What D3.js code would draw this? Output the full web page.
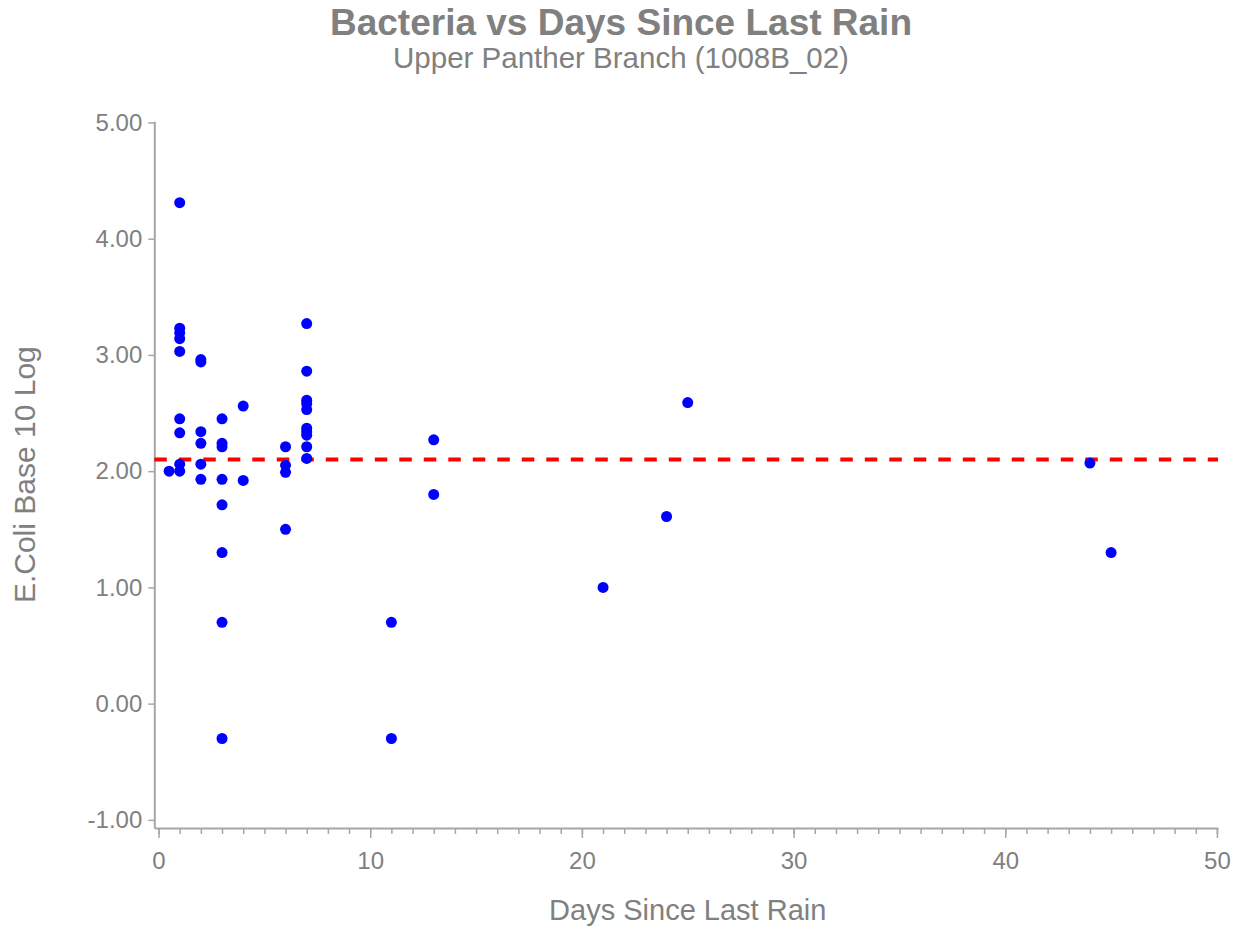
<!DOCTYPE html>
<html>
<head>
<meta charset="utf-8">
<script src="https://cdn.jsdelivr.net/npm/d3@7"></script>
<style>
  html, body { margin: 0; padding: 0; background: #fff; }
  svg { display: block; }
  text { font-family: "Liberation Sans", Arial, sans-serif; fill: #808080; }
</style>
</head>
<body>
<svg id="chart" width="1242" height="928"></svg>
<script>
// Days since last rain for each sample
const days = [
  0.5,
  1, 1, 1, 1, 1, 1, 1, 1, 1,
  2, 2, 2, 2, 2, 2,
  3, 3, 3, 3, 3, 3, 3, 3,
  4, 4,
  6, 6, 6, 6,
  7, 7, 7, 7, 7, 7, 7, 7, 7, 7,
  11, 11,
  13, 13,
  21, 24, 25, 44, 45
];
// log10 E. coli for each sample
const ecoliLog = [
  2.00,
  4.31, 3.23, 3.19, 3.14, 3.03, 2.45, 2.33, 2.06, 2.00,
  2.96, 2.94, 2.34, 2.24, 2.06, 1.93,
  2.45, 2.24, 2.21, 1.93, 1.71, 1.30, 0.70, -0.30,
  2.56, 1.92,
  2.21, 2.05, 1.99, 1.50,
  3.27, 2.86, 2.61, 2.58, 2.53, 2.37, 2.34, 2.31, 2.21, 2.11,
  0.70, -0.30,
  2.27, 1.80,
  1.00, 1.61, 2.59, 2.07, 1.30
];
const referenceLevel = 2.10;
const xTicks = [0, 10, 20, 30, 40, 50];
const xMinorTicks = d3.range(0, 51, 1);
const yTicks = [-1, 0, 1, 2, 3, 4, 5];

const titleText = "Bacteria vs Days Since Last Rain";
const subtitleText = "Upper Panther Branch (1008B_02)";
const xLabel = "Days Since Last Rain";
const yLabel = "E.Coli Base 10 Log";

const svg = d3.select("#chart");
const axisColor = "#a6a6a6";
const fontStack = "Liberation Sans, Arial, sans-serif";

const x = d3.scaleLinear().domain([-0.2, 50.05]).range([154.3, 1218]);
const y = d3.scaleLinear().domain([-1.07, 5.01]).range([828, 121.3]);

// Titles
svg.append("text")
  .attr("x", 621).attr("y", 35)
  .attr("text-anchor", "middle")
  .style("font-size", "37px").style("font-weight", "bold")
  .text(titleText);
svg.append("text")
  .attr("x", 621).attr("y", 68)
  .attr("text-anchor", "middle")
  .style("font-size", "29.5px")
  .text(subtitleText);

// Minor x ticks
svg.append("g")
  .attr("transform", `translate(0,${y.range()[0]})`)
  .call(d3.axisBottom(x).tickValues(xMinorTicks).tickSize(6).tickFormat(""))
  .call(g => g.select(".domain").remove())
  .call(g => g.selectAll("line").attr("stroke", axisColor).attr("stroke-width", 1.5));

// Major x axis
svg.append("g")
  .attr("transform", `translate(0,${y.range()[0]})`)
  .call(d3.axisBottom(x).tickValues(xTicks).tickSize(10).tickSizeOuter(0).tickPadding(14).tickFormat(d => String(d)))
  .call(g => g.select(".domain").attr("stroke", axisColor).attr("stroke-width", 2))
  .call(g => g.selectAll("line").attr("stroke", axisColor).attr("stroke-width", 1.5))
  .call(g => g.selectAll("text").style("font-size", "24px").attr("fill", "#808080")
    .style("font-family", fontStack));

// Y axis (plain hyphen for negatives)
svg.append("g")
  .attr("transform", `translate(${x.range()[0]},0)`)
  .call(d3.axisLeft(y).tickValues(yTicks).tickSize(6).tickSizeOuter(0).tickPadding(6).tickFormat(d => d.toFixed(2)))
  .call(g => g.select(".domain").attr("stroke", axisColor).attr("stroke-width", 2))
  .call(g => g.selectAll("line").attr("stroke", axisColor).attr("stroke-width", 1.5))
  .call(g => g.selectAll("text").style("font-size", "24px").attr("fill", "#808080")
    .style("font-family", fontStack));

// Axis labels
svg.append("text")
  .attr("x", (x(0) + x(50)) / 2).attr("y", 920)
  .attr("text-anchor", "middle")
  .style("font-size", "29px")
  .text(xLabel);
svg.append("text")
  .attr("transform", `translate(35,${(y(-1.07) + y(5.01)) / 2}) rotate(-90)`)
  .attr("text-anchor", "middle")
  .style("font-size", "30px")
  .text(yLabel);

// Reference line
svg.append("line")
  .attr("x1", x.range()[0]).attr("x2", x.range()[1])
  .attr("y1", y(referenceLevel)).attr("y2", y(referenceLevel))
  .attr("stroke", "#ff0000").attr("stroke-width", 4)
  .attr("stroke-dasharray", "12.5,12");

// Points
const pts = days.map((d, i) => ({ d, v: ecoliLog[i] }));
svg.append("g").selectAll("circle")
  .data(pts)
  .join("circle")
  .attr("cx", p => x(p.d))
  .attr("cy", p => y(p.v))
  .attr("r", 5.5)
  .attr("fill", "#0000ff");
</script>
</body>
</html>
